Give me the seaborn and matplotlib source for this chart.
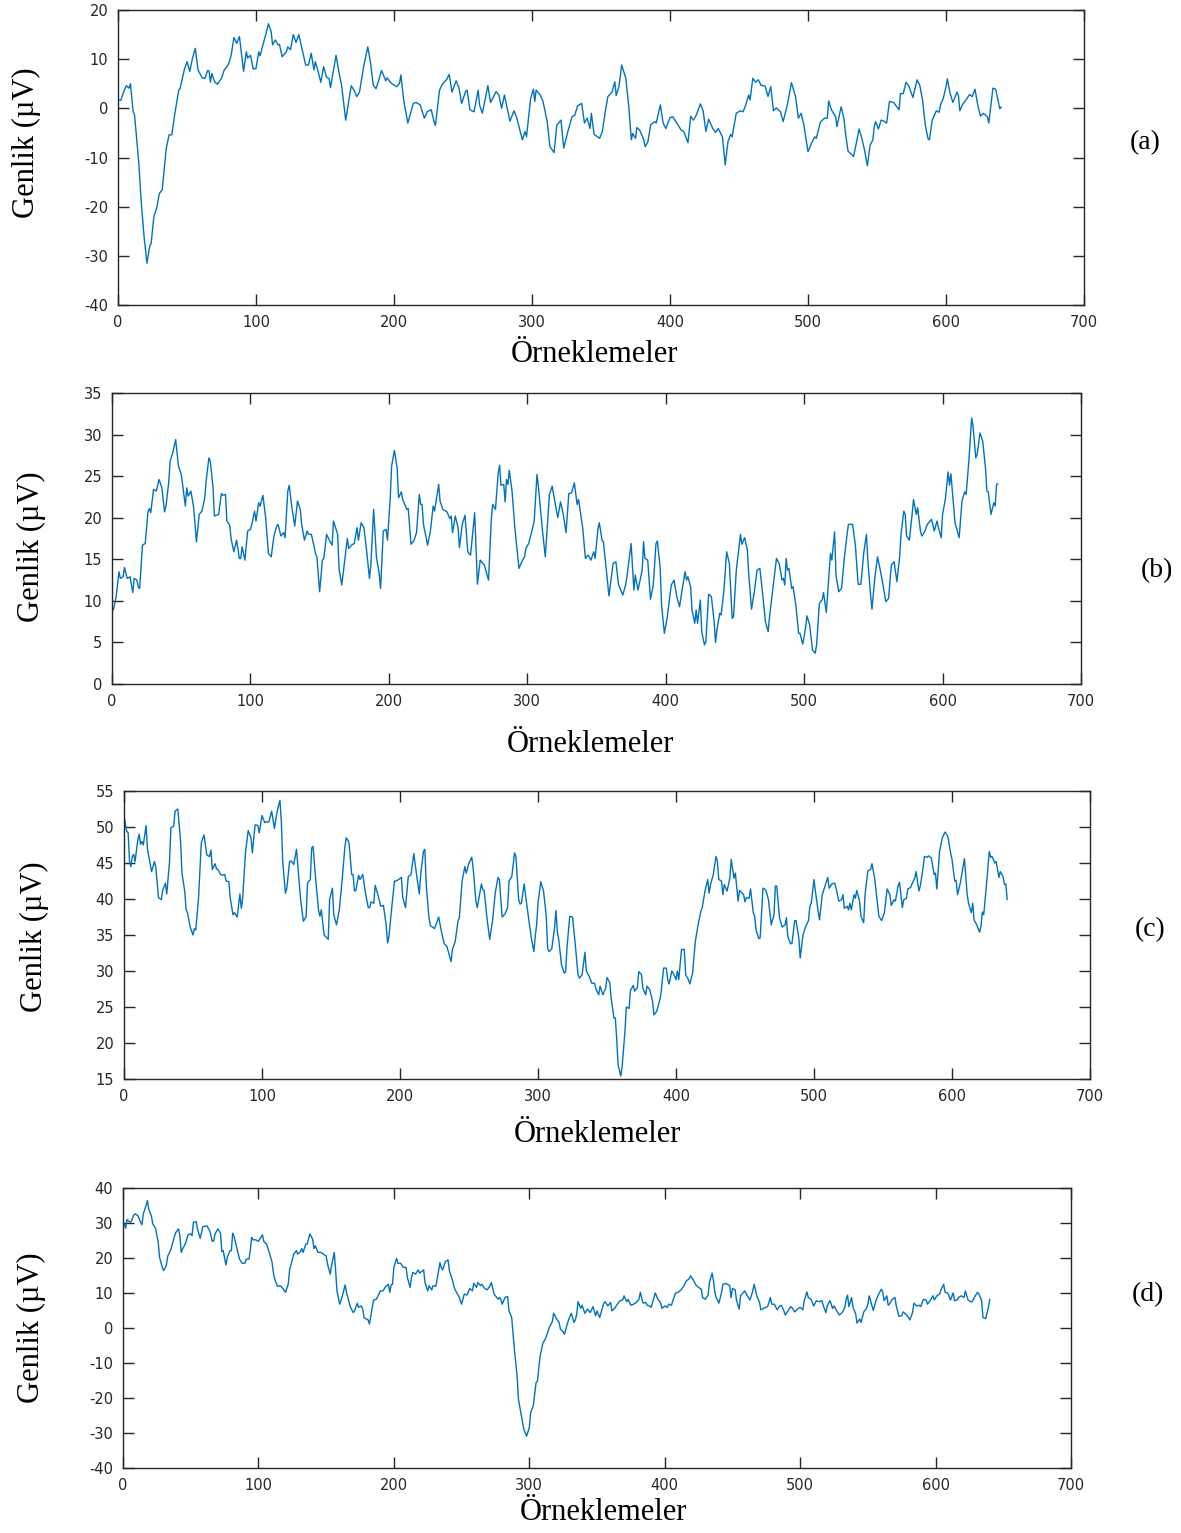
import matplotlib
matplotlib.use("Agg")
import matplotlib.pyplot as plt
import seaborn as sns
import pandas as pd

# (sample index, amplitude in µV) for each recording
trace_a = [
    (1, 1.7), (2, 1.6), (4, 3.3), (6, 4.6), (8, 4.1), (9, 5.0), (11, -0.7), (12, -1.4), (15, -10.8),
    (17, -19.7), (19, -26.4), (21, -31.5), (23, -28.0), (24, -27.5), (26, -22.0), (28, -20.3),
    (30, -17.3), (32, -16.6), (35, -8.1), (37, -5.4), (39, -5.4), (41, -1.4), (44, 3.7), (45, 4.0),
    (48, 7.8), (50, 9.5), (52, 7.5), (54, 10.2), (56, 12.2), (58, 7.8), (61, 6.2), (63, 6.1),
    (65, 7.7), (66, 7.6), (67, 5.3), (68, 7.1), (70, 5.4), (72, 4.9), (75, 6.1), (77, 7.8), (80, 8.9),
    (82, 10.8), (84, 14.4), (86, 13.2), (88, 14.6), (91, 7.5), (93, 11.5), (94, 10.2), (96, 10.8),
    (98, 8.0), (100, 8.1), (102, 11.5), (103, 10.7), (105, 12.9), (107, 14.9), (109, 17.2),
    (111, 15.6), (112, 12.9), (114, 13.9), (116, 12.9), (117, 13.0), (119, 10.5), (122, 11.5),
    (123, 12.5), (125, 11.9), (127, 15.0), (129, 13.4), (131, 15.0), (133, 12.5), (136, 8.8),
    (138, 8.8), (140, 11.2), (142, 7.8), (143, 9.5), (145, 7.5), (147, 5.3), (149, 8.5), (151, 6.4),
    (153, 6.0), (154, 4.2), (156, 7.5), (158, 10.8), (160, 7.5), (162, 4.7), (165, -2.4), (166, -0.7),
    (169, 4.6), (171, 3.7), (173, 2.4), (175, 3.3), (178, 8.5), (181, 12.5), (183, 9.2), (185, 4.7),
    (187, 4.0), (189, 5.8), (191, 7.7), (194, 5.6), (195, 6.2), (198, 5.1), (202, 4.4), (204, 5.1),
    (205, 6.8), (207, 1.7), (210, -3.0), (214, 1.0), (216, 1.2), (219, 0.7), (222, -2.0),
    (224, -0.7), (227, -0.3), (229, -2.7), (230, -3.5), (233, 3.7), (235, 4.9), (238, 5.8),
    (240, 6.9), (242, 3.3), (245, 5.6), (247, 4.2), (249, 1.0), (252, 3.5), (253, 3.7), (255, -0.3),
    (258, -0.7), (261, 3.7), (262, 0.7), (264, -1.0), (268, 4.6), (270, 1.2), (274, 3.4), (276, 2.7),
    (278, 0.0), (280, 2.7), (284, -2.6), (287, -0.5), (289, -2.0), (293, -6.4), (295, -4.7),
    (296, -5.8), (299, 2.0), (301, 3.9), (302, 1.4), (303, 3.7), (306, 2.7), (308, 1.4), (311, -2.7),
    (313, -7.8), (316, -9.0), (318, -3.4), (321, -2.4), (323, -8.1), (326, -4.7), (329, -1.7),
    (331, -1.4), (333, 0.5), (336, 1.0), (338, -3.0), (340, -2.0), (342, -4.1), (343, -1.0),
    (345, -5.3), (349, -6.1), (351, -4.7), (353, -0.8), (355, 2.4), (358, 3.3), (360, 5.4),
    (361, 2.6), (363, 4.4), (365, 8.8), (368, 6.1), (370, 0.7), (372, -6.4), (373, -5.1), (375, -6.1),
    (376, -3.9), (378, -4.4), (381, -6.4), (382, -7.8), (384, -6.8), (386, -3.3), (389, -2.7),
    (390, -3.0), (393, 0.7), (395, -3.0), (397, -4.1), (400, -1.9), (402, -1.7), (405, -3.0),
    (408, -4.4), (410, -4.7), (413, -7.0), (415, -1.6), (417, -2.4), (419, -1.4), (422, 0.9),
    (424, -0.5), (426, -4.7), (428, -2.2), (431, -4.1), (433, -4.9), (435, -4.1), (438, -5.8),
    (440, -11.5), (442, -6.8), (444, -5.3), (445, -5.8), (448, -1.0), (451, -0.5), (453, -0.7),
    (455, 0.8), (457, 2.7), (458, 1.7), (460, 6.1), (462, 5.3), (464, 5.8), (466, 4.7), (469, 4.5),
    (471, 2.4), (473, 4.4), (475, -0.5), (477, 0.1), (480, -0.7), (482, -2.7), (485, 0.7), (488, 5.2),
    (491, 2.4), (493, -2.0), (495, -1.0), (497, -3.4), (500, -8.8), (503, -6.8), (505, -5.8),
    (506, -6.1), (509, -2.8), (512, -2.0), (514, -2.0), (515, 1.5), (517, -0.3), (520, -1.7),
    (521, -3.7), (524, 0.3), (526, -2.0), (527, -4.7), (529, -8.7), (532, -9.5), (533, -9.8),
    (535, -7.1), (537, -4.2), (539, -6.1), (541, -8.5), (543, -11.7), (545, -7.5), (547, -6.4),
    (548, -3.7), (549, -2.7), (551, -4.2), (553, -2.4), (555, -2.6), (557, -3.0), (559, 1.4),
    (562, 1.2), (566, -0.3), (567, 3.0), (569, 3.0), (571, 5.3), (573, 4.6), (576, 2.2), (579, 5.8),
    (581, 4.7), (583, 1.7), (585, -3.4), (587, -6.2), (588, -6.4), (590, -2.4), (593, -0.5),
    (595, -0.8), (596, 0.7), (598, 2.0), (600, 4.4), (601, 6.0), (603, 3.0), (605, 1.2), (608, 3.3),
    (609, 2.6), (610, -0.5), (612, 0.8), (615, 1.9), (617, 2.8), (619, 2.4), (621, 3.9), (623, 0.7),
    (625, -1.6), (627, -1.0), (630, -1.7), (631, -3.0), (634, 4.1), (636, 3.9), (639, -0.1), (640, 0.3),
]

trace_b = [
    (1, 8.9), (3, 10.5), (5, 13.5), (6, 12.7), (8, 12.9), (9, 14.0), (11, 12.7), (13, 12.9), (15, 11.0),
    (16, 12.7), (18, 12.5), (19, 11.6), (20, 11.5), (22, 16.7), (24, 16.9), (26, 20.7), (27, 21.1),
    (28, 20.6), (30, 23.4), (32, 23.2), (34, 24.6), (36, 23.6), (38, 20.7), (39, 21.4), (41, 24.3),
    (42, 26.8), (44, 27.9), (46, 29.4), (48, 26.2), (50, 25.2), (51, 24.0), (53, 21.4), (54, 23.6),
    (55, 22.6), (57, 23.2), (59, 21.2), (61, 17.1), (63, 20.4), (65, 20.8), (67, 22.4), (68, 24.4),
    (70, 27.2), (71, 26.8), (73, 23.6), (74, 20.2), (77, 20.4), (79, 22.9), (80, 22.7), (82, 22.8),
    (83, 19.6), (85, 19.1), (86, 17.5), (88, 15.9), (90, 17.3), (92, 15.1), (93, 15.1), (94, 16.5),
    (96, 14.9), (98, 18.4), (100, 18.6), (101, 19.2), (103, 20.8), (104, 19.6), (106, 21.8),
    (107, 21.4), (109, 22.7), (111, 20.0), (113, 15.7), (115, 15.3), (117, 17.8), (119, 19.0),
    (120, 19.2), (122, 17.8), (124, 18.2), (125, 17.6), (127, 23.2), (128, 23.9), (130, 21.2),
    (132, 19.0), (134, 22.0), (136, 21.0), (137, 19.2), (139, 17.3), (141, 18.4), (142, 18.0),
    (144, 18.0), (145, 17.3), (147, 15.7), (148, 15.3), (150, 11.1), (152, 14.9), (153, 15.1),
    (155, 18.0), (157, 17.3), (159, 16.7), (160, 19.6), (163, 18.0), (164, 13.9), (166, 11.9),
    (168, 14.7), (170, 17.5), (171, 16.3), (173, 16.7), (175, 16.9), (177, 18.8), (178, 17.3),
    (180, 19.4), (182, 18.8), (184, 15.9), (186, 12.7), (187, 14.3), (189, 21.0), (191, 15.3),
    (193, 13.3), (194, 11.5), (196, 18.4), (198, 18.6), (199, 17.3), (201, 22.4), (202, 26.2),
    (204, 28.1), (206, 26.0), (207, 22.4), (209, 23.1), (210, 22.2), (213, 21.0), (214, 21.1),
    (216, 16.8), (218, 17.2), (220, 18.2), (222, 22.8), (223, 21.6), (224, 21.6), (225, 19.2),
    (228, 16.7), (230, 18.4), (232, 21.4), (233, 20.8), (236, 24.0), (237, 22.0), (239, 21.0),
    (242, 20.7), (244, 19.9), (245, 20.2), (246, 18.2), (248, 20.2), (250, 18.8), (251, 16.4),
    (253, 19.2), (255, 20.3), (257, 15.9), (259, 15.5), (262, 20.6), (264, 12.0), (266, 14.9),
    (269, 14.3), (272, 12.5), (274, 19.8), (275, 21.6), (277, 21.0), (279, 25.4), (280, 26.3),
    (281, 23.9), (283, 24.0), (284, 21.9), (285, 24.6), (286, 24.0), (287, 25.7), (289, 23.2),
    (291, 18.8), (294, 13.9), (296, 14.7), (298, 15.3), (299, 16.3), (301, 16.9), (303, 18.2),
    (305, 19.6), (307, 25.2), (308, 23.8), (311, 18.4), (313, 15.3), (316, 22.8), (318, 23.8),
    (319, 22.8), (322, 20.0), (324, 21.9), (326, 20.4), (328, 18.2), (330, 22.9), (332, 23.0),
    (334, 24.2), (336, 21.6), (337, 22.2), (340, 18.8), (342, 15.1), (344, 15.5), (346, 14.9),
    (348, 15.9), (349, 15.1), (351, 18.6), (352, 19.4), (354, 17.3), (355, 17.1), (357, 13.9),
    (359, 10.6), (362, 14.5), (364, 14.7), (366, 11.9), (369, 10.7), (371, 11.9), (372, 12.9),
    (374, 15.5), (375, 16.9), (377, 11.3), (378, 13.1), (380, 11.3), (383, 13.7), (384, 17.1),
    (385, 15.1), (387, 14.9), (389, 10.2), (391, 11.9), (393, 16.9), (394, 17.2), (396, 13.9),
    (397, 9.5), (399, 6.1), (401, 7.9), (404, 11.9), (406, 12.5), (408, 10.5), (410, 9.3),
    (412, 11.5), (414, 13.5), (415, 12.5), (416, 12.9), (418, 11.7), (419, 8.9), (421, 7.3),
    (422, 8.9), (423, 7.3), (425, 10.1), (426, 6.3), (428, 4.7), (429, 5.1), (431, 10.8), (433, 10.5),
    (435, 7.5), (436, 5.0), (437, 6.5), (439, 8.5), (440, 8.3), (442, 11.2), (444, 15.9), (446, 14.5),
    (448, 7.9), (449, 8.1), (451, 13.7), (454, 18.0), (455, 16.8), (457, 17.6), (459, 16.1),
    (460, 13.1), (462, 9.0), (464, 11.1), (466, 13.7), (468, 13.9), (470, 10.9), (472, 7.5),
    (474, 6.3), (475, 8.1), (476, 9.5), (478, 12.3), (480, 15.1), (482, 14.5), (484, 12.5),
    (485, 12.7), (486, 11.9), (487, 15.1), (488, 13.7), (489, 13.9), (491, 11.5), (492, 11.7),
    (494, 9.5), (496, 6.1), (497, 6.1), (499, 4.8), (501, 6.7), (502, 8.2), (504, 7.1), (506, 4.1),
    (508, 3.7), (509, 4.7), (511, 9.7), (513, 10.1), (514, 11.0), (516, 8.6), (517, 10.9),
    (519, 15.7), (520, 14.9), (522, 18.3), (523, 13.1), (525, 11.1), (527, 11.5), (529, 15.1),
    (531, 18.0), (532, 19.2), (535, 19.2), (537, 16.7), (539, 12.0), (541, 12.0), (543, 15.7),
    (545, 18.0), (546, 14.9), (548, 10.7), (549, 9.0), (551, 12.7), (553, 15.3), (555, 13.7),
    (557, 11.9), (559, 9.9), (561, 10.3), (563, 14.3), (565, 14.7), (567, 12.3), (569, 15.3),
    (570, 18.0), (572, 20.8), (573, 20.4), (574, 17.8), (576, 17.3), (578, 20.4), (579, 22.2),
    (581, 20.4), (582, 21.2), (584, 18.4), (585, 17.8), (587, 18.3), (589, 19.2), (592, 19.8),
    (594, 18.4), (596, 19.6), (597, 18.8), (599, 17.6), (600, 20.4), (602, 22.2), (604, 25.5),
    (605, 23.9), (606, 25.3), (609, 19.4), (612, 17.6), (614, 22.0), (616, 23.1), (617, 22.8),
    (619, 26.8), (621, 32.0), (622, 31.0), (624, 27.2), (625, 27.6), (627, 30.2), (629, 29.2),
    (631, 26.0), (632, 23.2), (633, 23.1), (635, 20.4), (637, 21.8), (638, 21.4), (639, 24.0),
    (640, 24.1),
]

trace_c = [
    (0, 51.5), (2, 49.4), (3, 49.2), (4, 45.2), (5, 44.5), (6, 45.9), (7, 46.2), (8, 45.2), (10, 48.2),
    (11, 49.0), (12, 47.6), (13, 48.0), (14, 47.5), (16, 50.2), (17, 46.9), (18, 45.9), (20, 43.8),
    (22, 45.2), (23, 44.5), (25, 40.2), (27, 39.9), (28, 41.2), (30, 42.2), (31, 40.7), (33, 45.2),
    (34, 49.9), (36, 50.1), (37, 52.2), (39, 52.5), (41, 48.0), (42, 43.6), (44, 41.1), (45, 38.5),
    (46, 38.1), (48, 36.1), (50, 35.0), (51, 35.9), (52, 35.7), (54, 40.1), (56, 47.8), (58, 48.9),
    (60, 46.1), (62, 45.9), (63, 46.8), (64, 44.1), (66, 44.9), (67, 44.2), (68, 44.1), (70, 43.4),
    (71, 43.3), (73, 43.4), (74, 42.5), (76, 42.4), (77, 40.1), (79, 37.8), (80, 38.1), (82, 37.5),
    (84, 40.7), (85, 38.7), (86, 40.1), (88, 46.4), (90, 49.5), (92, 48.5), (93, 46.4), (95, 50.3),
    (97, 50.2), (98, 49.2), (100, 51.6), (102, 50.6), (103, 50.7), (105, 50.7), (107, 52.2),
    (109, 49.8), (110, 51.0), (111, 52.2), (113, 53.7), (114, 50.8), (115, 45.2), (117, 40.8),
    (118, 41.5), (120, 45.2), (121, 45.3), (123, 44.8), (125, 46.9), (126, 44.5), (128, 39.9),
    (130, 36.9), (132, 37.6), (133, 42.2), (135, 42.7), (136, 47.1), (137, 47.3), (139, 42.5),
    (141, 38.4), (142, 37.6), (143, 38.5), (145, 35.0), (148, 34.4), (149, 39.9), (151, 41.5),
    (152, 37.8), (154, 36.4), (156, 38.5), (158, 42.5), (160, 47.1), (161, 48.5), (163, 47.9),
    (165, 43.4), (166, 43.4), (167, 41.1), (168, 41.2), (170, 43.3), (171, 42.7), (173, 43.4),
    (175, 40.8), (177, 38.8), (178, 38.8), (179, 39.6), (181, 39.4), (182, 41.9), (184, 40.6),
    (186, 39.0), (188, 39.1), (190, 36.4), (191, 33.9), (192, 34.8), (194, 38.8), (196, 42.5),
    (197, 42.5), (199, 42.7), (201, 43.0), (202, 40.2), (204, 38.8), (206, 43.1), (208, 43.4),
    (210, 46.3), (212, 43.4), (214, 40.7), (215, 43.4), (217, 46.6), (218, 46.9), (219, 42.0),
    (221, 37.4), (222, 36.3), (225, 35.9), (227, 36.9), (228, 37.5), (230, 35.5), (232, 33.8),
    (234, 33.4), (237, 31.3), (238, 33.0), (240, 34.1), (242, 36.9), (243, 37.4), (245, 42.5),
    (247, 44.5), (248, 43.6), (250, 45.0), (252, 45.8), (253, 44.3), (255, 39.7), (256, 38.8),
    (259, 42.1), (260, 41.3), (261, 41.2), (263, 37.4), (265, 34.4), (267, 36.9), (269, 40.8),
    (271, 43.0), (272, 42.7), (274, 37.5), (276, 37.9), (278, 38.8), (279, 42.5), (281, 43.1),
    (283, 46.4), (284, 45.9), (286, 39.9), (287, 39.3), (288, 39.4), (290, 42.1), (292, 39.0),
    (295, 34.8), (297, 32.7), (298, 34.8), (299, 36.4), (300, 39.4), (302, 42.4), (304, 41.1),
    (306, 37.6), (307, 33.1), (308, 32.7), (310, 33.1), (312, 36.0), (313, 38.4), (314, 35.5),
    (315, 34.4), (317, 30.9), (319, 29.7), (320, 29.9), (321, 33.2), (323, 37.6), (325, 37.5),
    (327, 33.7), (329, 29.5), (330, 29.0), (332, 29.5), (334, 32.6), (335, 30.0), (337, 29.3),
    (339, 28.3), (341, 28.3), (342, 27.5), (344, 26.7), (345, 27.9), (347, 26.7), (349, 27.6),
    (350, 29.1), (352, 28.4), (353, 26.2), (355, 23.5), (356, 23.5), (357, 20.7), (358, 17.0),
    (360, 15.4), (361, 16.8), (363, 21.6), (364, 25.0), (366, 24.8), (367, 27.3), (369, 28.0),
    (370, 27.2), (372, 27.7), (373, 29.9), (375, 29.5), (376, 27.6), (378, 26.7), (379, 27.9),
    (381, 27.4), (383, 25.8), (384, 23.9), (386, 24.4), (388, 25.8), (389, 26.7), (391, 30.4),
    (393, 30.4), (394, 28.8), (395, 28.2), (397, 30.0), (398, 29.7), (400, 28.8), (401, 30.0),
    (402, 28.8), (404, 33.0), (406, 33.0), (407, 29.5), (409, 28.8), (410, 28.2), (412, 29.7),
    (414, 34.1), (416, 36.4), (418, 38.3), (419, 38.8), (421, 41.1), (423, 42.7), (424, 40.8),
    (425, 42.0), (427, 43.4), (429, 45.9), (430, 45.2), (431, 42.7), (433, 42.5), (434, 40.6),
    (435, 42.0), (437, 41.1), (439, 42.9), (440, 45.5), (442, 42.9), (443, 43.6), (445, 39.7),
    (446, 41.2), (449, 40.6), (450, 39.6), (451, 40.2), (453, 40.1), (454, 41.4), (456, 38.1),
    (457, 37.6), (458, 35.7), (460, 34.5), (461, 34.6), (463, 41.5), (465, 41.3), (467, 39.9),
    (469, 36.4), (471, 37.8), (472, 41.8), (473, 41.8), (475, 37.4), (477, 36.1), (479, 36.4),
    (480, 37.4), (481, 34.8), (483, 33.8), (484, 33.8), (486, 37.0), (487, 37.0), (489, 34.6),
    (490, 31.8), (492, 35.0), (494, 36.2), (496, 37.0), (497, 39.0), (498, 39.4), (500, 42.7),
    (501, 41.1), (503, 38.3), (504, 37.1), (506, 40.6), (508, 41.8), (510, 43.0), (511, 41.5),
    (513, 42.1), (515, 42.2), (516, 41.5), (518, 39.7), (520, 39.9), (521, 40.6), (522, 38.7),
    (524, 39.0), (525, 38.5), (526, 39.4), (527, 38.5), (529, 40.6), (530, 40.1), (531, 41.2),
    (533, 39.7), (534, 37.6), (536, 36.7), (537, 40.6), (539, 43.9), (541, 44.1), (542, 44.9),
    (544, 42.8), (545, 41.1), (547, 37.6), (549, 37.0), (551, 38.1), (553, 41.4), (555, 40.6),
    (556, 39.1), (558, 39.9), (559, 39.7), (561, 41.9), (562, 42.3), (564, 38.8), (565, 39.9),
    (567, 40.1), (568, 41.4), (570, 41.6), (571, 42.1), (573, 42.9), (574, 43.8), (576, 41.1),
    (577, 41.8), (579, 44.3), (580, 45.9), (582, 45.8), (583, 46.0), (585, 45.7), (587, 43.4),
    (588, 43.6), (589, 41.4), (591, 46.6), (593, 48.5), (595, 49.3), (597, 48.7), (599, 46.4),
    (600, 45.5), (602, 42.5), (603, 42.6), (604, 40.6), (606, 42.2), (608, 44.5), (609, 45.6),
    (611, 40.6), (612, 39.4), (614, 38.1), (615, 39.4), (616, 37.1), (618, 36.4), (620, 35.4),
    (621, 36.2), (622, 38.2), (623, 37.8), (625, 42.0), (627, 46.6), (628, 45.8), (629, 45.9),
    (631, 45.0), (632, 45.2), (634, 43.0), (635, 43.8), (637, 43.1), (638, 42.0), (639, 42.1),
    (640, 39.9),
]

trace_d = [
    (1, 29.7), (2, 28.5), (3, 31.0), (5, 30.2), (6, 30.4), (8, 32.3), (9, 32.6), (11, 32.1), (13, 30.2),
    (14, 29.5), (15, 32.6), (17, 35.0), (18, 36.4), (19, 34.0), (21, 31.9), (22, 29.7), (24, 28.5),
    (26, 24.5), (27, 20.2), (29, 17.3), (30, 16.4), (32, 17.8), (33, 20.5), (35, 22.1), (36, 23.3),
    (38, 26.2), (39, 27.3), (41, 28.3), (42, 26.4), (43, 21.6), (44, 22.6), (46, 24.0), (48, 26.6),
    (50, 26.9), (51, 26.4), (52, 30.2), (54, 30.4), (55, 28.3), (57, 25.6), (59, 29.0), (60, 29.0),
    (62, 29.2), (64, 27.8), (66, 24.7), (67, 24.9), (68, 26.9), (70, 28.3), (72, 27.1), (73, 21.8),
    (74, 22.1), (76, 18.0), (77, 20.2), (79, 22.1), (80, 22.1), (81, 27.1), (82, 26.2), (84, 23.0),
    (86, 19.7), (88, 18.5), (90, 18.5), (91, 19.7), (93, 19.7), (94, 22.1), (95, 25.9), (96, 25.2),
    (98, 25.2), (100, 24.7), (101, 25.4), (103, 26.6), (104, 24.7), (106, 24.0), (108, 21.6),
    (110, 18.9), (111, 15.9), (112, 14.0), (114, 11.9), (116, 12.1), (118, 11.3), (120, 10.2),
    (122, 12.5), (123, 16.6), (125, 19.5), (126, 21.1), (128, 22.1), (129, 21.1), (131, 21.8),
    (132, 22.7), (133, 21.6), (135, 24.0), (136, 24.0), (138, 26.9), (140, 25.4), (141, 22.7),
    (142, 23.5), (144, 21.6), (146, 21.6), (148, 21.1), (150, 20.6), (151, 18.3), (153, 15.4),
    (154, 17.8), (156, 21.6), (157, 16.4), (158, 10.6), (160, 6.8), (162, 9.2), (164, 12.3),
    (165, 10.2), (166, 8.7), (168, 5.9), (170, 4.4), (171, 4.9), (173, 7.1), (174, 5.9), (176, 6.3),
    (177, 5.4), (178, 3.0), (179, 2.7), (181, 2.3), (182, 1.1), (183, 3.5), (185, 8.0), (187, 8.2),
    (189, 9.7), (190, 10.6), (192, 10.6), (194, 11.9), (196, 12.5), (197, 10.2), (198, 12.3),
    (199, 12.5), (200, 17.3), (202, 19.9), (203, 18.5), (205, 18.5), (207, 17.3), (209, 17.3),
    (210, 14.4), (212, 11.6), (213, 14.4), (214, 15.9), (216, 15.4), (218, 16.6), (219, 15.7),
    (222, 16.6), (223, 13.0), (225, 10.6), (226, 12.1), (228, 10.9), (229, 12.1), (231, 11.9),
    (232, 14.0), (234, 18.7), (235, 17.3), (236, 16.6), (238, 18.9), (240, 19.5), (241, 16.4),
    (243, 14.0), (245, 11.1), (248, 9.0), (250, 6.8), (252, 9.7), (254, 9.4), (256, 11.3), (258, 10.6),
    (259, 12.8), (261, 11.6), (262, 13.0), (264, 12.1), (265, 12.5), (267, 11.3), (269, 10.9),
    (271, 12.1), (272, 13.0), (274, 9.7), (275, 9.2), (277, 8.2), (278, 8.7), (279, 8.2), (280, 6.8),
    (282, 8.7), (284, 9.0), (285, 4.9), (287, 3.0), (289, -6.1), (291, -13.7), (292, -20.4),
    (294, -24.7), (296, -29.0), (298, -30.9), (300, -28.5), (301, -24.2), (303, -22.1), (305, -15.6),
    (306, -15.2), (308, -8.0), (310, -4.4), (312, -3.0), (314, -0.8), (315, 0.4), (317, 1.8),
    (318, 4.2), (320, 2.7), (322, 1.6), (323, -0.3), (325, -1.1), (326, -1.8), (328, 1.1), (329, 2.3),
    (331, 4.2), (333, 1.6), (334, 2.3), (335, 3.9), (336, 7.5), (338, 5.6), (339, 6.5), (341, 4.2),
    (343, 5.4), (345, 4.4), (347, 6.1), (349, 3.5), (350, 4.9), (352, 3.0), (353, 4.4), (355, 7.1),
    (356, 7.5), (358, 6.3), (360, 7.3), (361, 4.9), (363, 5.6), (365, 6.8), (367, 7.8), (369, 8.0),
    (370, 9.2), (372, 7.5), (373, 8.2), (375, 6.5), (377, 6.8), (379, 7.3), (381, 8.2), (382, 10.2),
    (384, 7.1), (386, 7.3), (387, 6.5), (389, 6.3), (390, 5.9), (392, 8.7), (393, 10.0), (395, 8.2),
    (397, 7.1), (398, 5.6), (400, 6.3), (402, 5.9), (403, 6.8), (405, 6.5), (406, 7.8), (408, 10.0),
    (410, 10.2), (412, 10.9), (414, 11.9), (416, 13.5), (418, 14.0), (419, 14.9), (421, 13.8),
    (423, 12.3), (425, 11.6), (427, 11.1), (428, 8.7), (430, 8.2), (432, 9.4), (433, 13.0),
    (435, 15.7), (436, 13.5), (437, 10.2), (438, 8.7), (440, 7.1), (442, 10.2), (443, 12.5),
    (445, 12.7), (448, 12.1), (449, 8.7), (450, 11.3), (452, 10.9), (453, 8.0), (455, 5.4), (456, 9.2),
    (459, 10.6), (461, 9.2), (463, 8.0), (465, 10.6), (466, 12.5), (468, 9.2), (470, 7.3), (471, 5.2),
    (474, 5.8), (476, 6.1), (478, 8.7), (479, 6.8), (481, 6.8), (483, 5.2), (485, 6.3), (486, 6.5),
    (488, 4.9), (489, 3.7), (491, 4.9), (493, 6.1), (494, 5.8), (496, 4.6), (498, 5.4), (500, 5.9),
    (502, 5.2), (503, 7.8), (505, 10.3), (506, 8.7), (508, 8.2), (510, 6.3), (512, 7.8), (514, 7.5),
    (516, 7.8), (517, 6.5), (519, 4.4), (520, 6.3), (522, 7.8), (524, 5.6), (525, 6.3), (527, 4.9),
    (529, 3.7), (531, 4.4), (533, 5.8), (534, 8.2), (535, 9.4), (536, 6.1), (538, 8.7), (539, 5.9),
    (541, 4.0), (542, 1.4), (544, 2.6), (545, 1.6), (547, 4.6), (549, 5.6), (550, 6.8), (551, 9.2),
    (552, 7.8), (554, 5.0), (556, 7.8), (558, 9.7), (560, 11.1), (561, 10.3), (562, 7.8), (564, 9.2),
    (565, 6.5), (566, 6.8), (568, 8.2), (570, 8.7), (571, 6.3), (573, 3.3), (575, 3.5), (576, 4.6),
    (578, 4.0), (580, 3.0), (581, 2.3), (583, 4.4), (584, 7.1), (586, 6.3), (588, 6.5), (589, 6.1),
    (591, 8.2), (593, 8.0), (594, 6.8), (596, 7.8), (598, 9.2), (599, 8.0), (601, 9.2), (603, 9.7),
    (604, 10.9), (606, 12.5), (607, 10.2), (609, 10.0), (611, 8.0), (613, 10.0), (614, 7.8),
    (616, 8.0), (617, 8.7), (619, 9.2), (621, 8.7), (622, 10.6), (624, 8.0), (626, 7.5), (627, 7.5),
    (629, 9.0), (631, 10.2), (632, 9.7), (634, 7.8), (635, 3.0), (637, 2.7), (639, 5.9), (640, 8.2),
]

panel_tags = ["(a)", "(b)", "(c)", "(d)"]
y_limits = [(-40, 20), (0, 35), (15, 55), (-40, 40)]
y_steps = [10, 5, 5, 10]
x_ticks = [0, 100, 200, 300, 400, 500, 600, 700]
x_label = "Örneklemeler"
y_label = "Genlik (µV)"

LINE_BLUE = "#0072BD"
INK = "#262626"

sns.set_theme(style="ticks")
plt.rcParams["font.family"] = ["DejaVu Sans"]
plt.rcParams["axes.unicode_minus"] = False

W, H = 1181, 1533
fig = plt.figure(figsize=(W / 100, H / 100), dpi=100)

# axes boxes in pixels: left, top, right, bottom
boxes = [(118, 10, 1084, 305), (112, 393, 1081, 684), (124, 791, 1090, 1079), (123, 1188, 1071, 1468)]
# x-label centre, y-label centre, panel tag centre (pixels)
xlab_pos = [(594, 355), (590, 744), (597, 1135), (603, 1512)]
ylab_pos = [(26, 143), (31, 547), (34, 937), (31, 1328)]
tag_pos = [(1145, 143), (1157, 571), (1150, 930), (1148, 1295)]

serif = ["Liberation Serif", "DejaVu Serif"]

for i, trace in enumerate([trace_a, trace_b, trace_c, trace_d]):
    l, t, r, b = boxes[i]
    ax = fig.add_axes([l / W, 1 - b / H, (r - l) / W, (b - t) / H])
    df = pd.DataFrame(trace, columns=["sample", "amplitude"])
    sns.lineplot(data=df, x="sample", y="amplitude", ax=ax, color=LINE_BLUE,
                 linewidth=1.0, estimator=None, sort=False)
    lo, hi = y_limits[i]
    ax.set_xlim(0, 700)
    ax.set_ylim(lo, hi)
    ax.set_xticks(x_ticks)
    ax.set_yticks(list(range(lo, hi + 1, y_steps[i])))
    ax.set_xlabel("")
    ax.set_ylabel("")
    for sp in ax.spines.values():
        sp.set_visible(True)
        sp.set_color(INK)
        sp.set_linewidth(1.0)
    ax.tick_params(axis="both", which="both", direction="in", length=8, width=1.0,
                   color=INK, labelcolor=INK, labelsize=10.5, top=True, right=True,
                   pad=7)
    ax.set_facecolor("white")

    fig.text(xlab_pos[i][0] / W, 1 - xlab_pos[i][1] / H, x_label, family=serif,
             fontsize=22, ha="center", va="center", color="black")
    fig.text(ylab_pos[i][0] / W, 1 - ylab_pos[i][1] / H, y_label, family=serif,
             fontsize=22, ha="center", va="center", rotation=90, color="black")
    fig.text(tag_pos[i][0] / W, 1 - tag_pos[i][1] / H, panel_tags[i], family=serif,
             fontsize=20, ha="center", va="center", color="black")

fig.savefig("out.png", dpi=100, facecolor="white")
